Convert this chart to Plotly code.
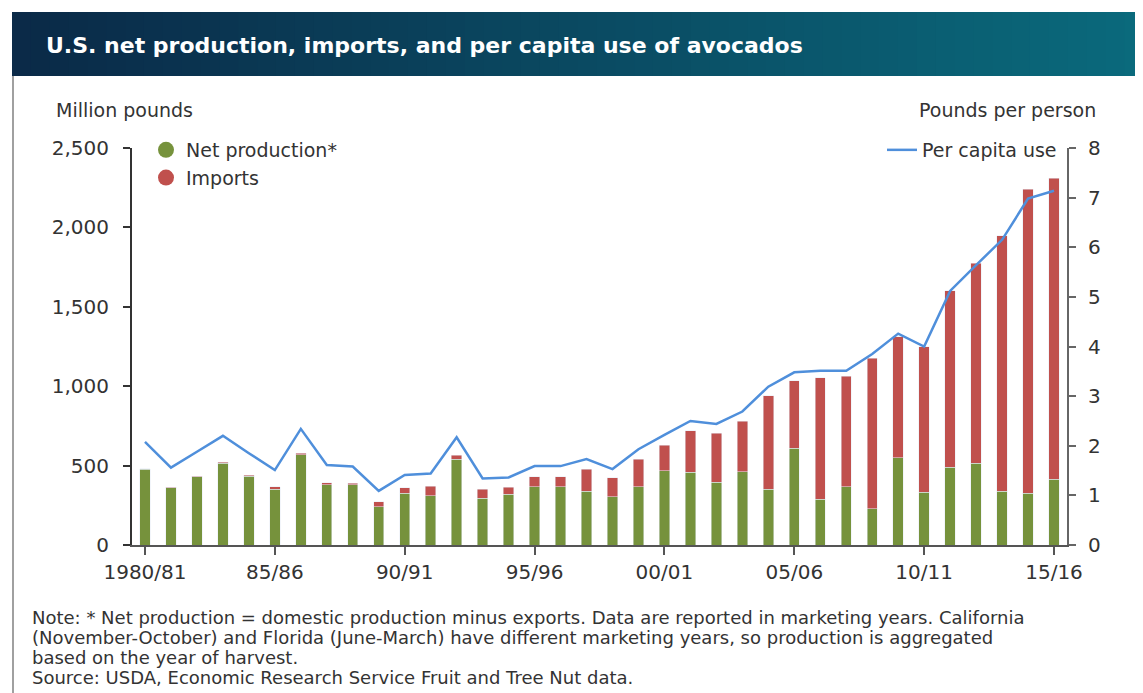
import plotly.graph_objects as go

# Marketing years (categories)
years = [
    "1980/81", "81/82", "82/83", "83/84", "84/85", "85/86", "86/87", "87/88",
    "88/89", "89/90", "90/91", "91/92", "92/93", "93/94", "94/95", "95/96",
    "96/97", "97/98", "98/99", "99/00", "00/01", "01/02", "02/03", "03/04",
    "04/05", "05/06", "06/07", "07/08", "08/09", "09/10", "10/11", "11/12",
    "12/13", "13/14", "14/15", "15/16",
]
tick_years = ["1980/81", "85/86", "90/91", "95/96", "00/01", "05/06", "10/11", "15/16"]

# Million pounds
net_production = [
    476, 361, 430, 514, 434, 350, 567, 378, 378, 241, 325, 311, 541, 294, 321, 367,
    367, 340, 304, 367, 468, 457, 394, 462, 352, 608, 287, 367, 227, 550, 332, 489,
    514, 340, 325, 413,
]
imports = [
    5, 2, 3, 8, 6, 17, 10, 14, 10, 32, 36, 60, 25, 58, 42, 63,
    63, 136, 120, 172, 161, 261, 309, 318, 588, 426, 766, 697, 948, 761, 916, 1112,
    1259, 1607, 1914, 1895,
]
# Pounds per person
per_capita = [
    2.08, 1.56, 1.88, 2.20, 1.85, 1.51, 2.34, 1.61, 1.58, 1.09, 1.41, 1.44, 2.17, 1.34,
    1.36, 1.59, 1.59, 1.73, 1.53, 1.93, 2.22, 2.50, 2.44, 2.69, 3.19, 3.48, 3.51, 3.51,
    3.85, 4.26, 4.00, 5.12, 5.64, 6.15, 6.98, 7.14,
]

note_lines = [
    "Note: * Net production = domestic production minus exports. Data are reported "
    "in marketing years. California",
    "(November-October) and Florida (June-March) have different marketing years, "
    "so production is aggregated",
    "based on the year of harvest.",
    "Source: USDA, Economic Research Service Fruit and Tree Nut data.",
]

GREEN = "#76923c"
RED = "#c0504d"
BLUE = "#4f8fdb"
FONT = "DejaVu Sans"
TXT = "#333333"

OFF = 8  # page body margin around the figure
W, H = 1143 - OFF, 693 - OFF
# plot area, in screen pixels
L, R, T, B = 132, 1067, 148, 545


def px_x(x):
    return (x - L) / (R - L)


def px_y(y):
    return (B - y) / (B - T)


fig = go.Figure()

# 1. Bars and line
fig.add_trace(go.Bar(x=years, y=net_production, marker_color=GREEN, showlegend=False))
fig.add_trace(go.Bar(x=years, y=imports, marker_color=RED, showlegend=False))
fig.add_trace(
    go.Scatter(x=years, y=per_capita, yaxis="y2", mode="lines",
               line=dict(color=BLUE, width=2.5), showlegend=False)
)

# 1.1 legend entries (circle swatches like the original)
fig.add_trace(go.Scatter(x=[None], y=[None], mode="markers", name="Net production*",
                         marker=dict(color=GREEN, size=18, symbol="circle"), legend="legend"))
fig.add_trace(go.Scatter(x=[None], y=[None], mode="markers", name="Imports",
                         marker=dict(color=RED, size=18, symbol="circle"), legend="legend"))
fig.add_trace(go.Scatter(x=[None], y=[None], mode="lines", name="Per capita use",
                         line=dict(color=BLUE, width=2.5), legend="legend2"))

# 2. Title banner (gradient made of thin strips)
shapes = []
n = 60
c0, c1 = (11, 42, 72), (10, 106, 124)
bx0, bx1, by0, by1 = 12, 1143, 12, 76
for i in range(n):
    t = i / (n - 1)
    c = tuple(int(c0[k] + (c1[k] - c0[k]) * t) for k in range(3))
    xa = bx0 + (bx1 - bx0) * i / n
    xb = bx0 + (bx1 - bx0) * (i + 1) / n + 1
    shapes.append(dict(type="rect", xref="paper", yref="paper",
                       x0=px_x(xa), x1=px_x(min(xb, bx1)), y0=px_y(by1), y1=px_y(by0),
                       fillcolor="rgb(%d,%d,%d)" % c, line_width=0, layer="below"))
# left panel border
shapes.append(dict(type="line", xref="paper", yref="paper",
                   x0=px_x(13), x1=px_x(13), y0=px_y(700), y1=px_y(76),
                   line=dict(color="#a0a0a0", width=2)))

annotations = [
    dict(text="<b>U.S. net production, imports, and per capita use of avocados</b>",
         xref="paper", yref="paper", x=px_x(44), y=px_y(45), xanchor="left",
         yanchor="middle", showarrow=False, font=dict(family=FONT, size=22, color="white")),
    dict(text="Million pounds", xref="paper", yref="paper", x=px_x(54), y=px_y(110),
         xanchor="left", yanchor="middle", showarrow=False,
         font=dict(family=FONT, size=19, color=TXT)),
    dict(text="Pounds per person", xref="paper", yref="paper", x=px_x(1098), y=px_y(110),
         xanchor="right", yanchor="middle", showarrow=False,
         font=dict(family=FONT, size=19, color=TXT)),
]
for i, line in enumerate(note_lines):
    annotations.append(
        dict(text=line, xref="paper", yref="paper", x=px_x(30), y=px_y([617, 637, 657, 677][i]),
             xanchor="left", yanchor="middle", align="left", showarrow=False,
             font=dict(family=FONT, size=18, color=TXT))
    )

fig.update_layout(
    width=W, height=H,
    margin=dict(l=L - OFF, r=W - (R - OFF), t=T - OFF, b=H - (B - OFF), pad=0),
    paper_bgcolor="white", plot_bgcolor="white",
    barmode="stack", bargap=0.6,
    font=dict(family=FONT, size=19, color=TXT),
    shapes=shapes, annotations=annotations,
    xaxis=dict(
        type="category", range=[-0.5, len(years) - 0.5],
        tickmode="array", tickvals=tick_years, ticktext=tick_years,
        showline=True, linecolor="#555555", linewidth=2,
        ticks="outside", ticklen=8, tickcolor="#555555", tickwidth=2,
        showgrid=False, zeroline=False, tickfont=dict(size=20, color=TXT),
    ),
    yaxis=dict(
        range=[0, 2500], dtick=500, tickformat=",",
        showline=True, linecolor="#333333", linewidth=2,
        ticks="outside", ticklen=7, tickcolor="#333333", tickwidth=2,
        ticklabelstandoff=10,
        showgrid=False, zeroline=False, tickfont=dict(size=20, color=TXT),
    ),
    yaxis2=dict(
        range=[0, 8], dtick=1, overlaying="y", side="right",
        showline=True, linecolor="#666666", linewidth=2,
        ticks="outside", ticklen=7, tickcolor="#666666", tickwidth=2,
        ticklabelstandoff=8,
        showgrid=False, zeroline=False, tickfont=dict(size=20, color=TXT),
    ),
    legend=dict(
        x=px_x(146), y=px_y(131), xanchor="left", yanchor="top",
        bgcolor="rgba(0,0,0,0)", font=dict(size=19, color=TXT),
        traceorder="normal", itemsizing="trace", tracegroupgap=0,
    ),
    legend2=dict(
        x=px_x(1062), y=px_y(131), xanchor="right", yanchor="top",
        bgcolor="rgba(0,0,0,0)", font=dict(size=19, color=TXT),
    ),
)

fig.write_html("out.html")
